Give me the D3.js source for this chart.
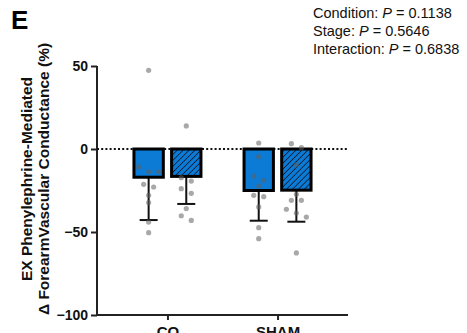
<!DOCTYPE html>
<html>
<head>
<meta charset="utf-8">
<script src="https://cdn.jsdelivr.net/npm/d3@7"></script>
<style>
  body { margin: 0; background: #fff; }
  svg { display: block; font-family: "Liberation Sans", Arial, sans-serif; }
  .axis path, .axis line { stroke: #222; stroke-width: 2; }
  .axis text { font-size: 14px; font-weight: bold; fill: #111; }
</style>
</head>
<body>
<div id="chart"></div>
<script>
// groups on the x axis and the two stages in each group
var categories = ["CO", "SHAM"];
var stages = ["Stage 1", "Stage 2"];

// bar heights (mean) and SD per category, one array per stage
var meanStage1 = [-17, -25];
var meanStage2 = [-16.5, -24.8];
var sdStage1 = [25.8, 18.2];
var sdStage2 = [16.6, 19];

// individual subjects
var pointsCOStage1 = [47.4, -10.8, -13.7, -13.7, -21.3, -22.9, -27.9, -32.3, -44, -50.4];
var pointsCOStage2 = [13.9, -17.3, -19.3, -23.9, -26.7, -35.9, -40.2, -43];
var pointsSHAMStage1 = [3.6, -4.6, -16.4, -18.9, -22.3, -27.9, -28.7, -34.9, -47.4, -54];
var pointsSHAMStage2 = [3.2, 0.8, -9.6, -27.3, -30.9, -30.9, -36.3, -38.6, -41, -62.6];

var yTicks = [50, 0, -50, -100];
var statLines = [
    ["Condition: ", "P", " = 0.1138"],
    ["Stage: ", "P", " = 0.5646"],
    ["Interaction: ", "P", " = 0.6838"]
];

var W = 467, H = 333;
var svg = d3.select("#chart").append("svg")
    .attr("width", W)
    .attr("height", H);

var defs = svg.append("defs");
var pat = defs.append("pattern")
    .attr("id", "hatch")
    .attr("patternUnits", "userSpaceOnUse")
    .attr("width", 4.2)
    .attr("height", 4.2)
    .attr("patternTransform", "rotate(45)");
pat.append("rect").attr("width", 4.2).attr("height", 4.2).attr("fill", "#0b7bd6");
pat.append("line")
    .attr("x1", 0).attr("y1", 0).attr("x2", 0).attr("y2", 4.2)
    .attr("stroke", "#0b1f3a").attr("stroke-width", 1.7);

var y = d3.scaleLinear()
    .domain([-100, 50])
    .range([315, 66]);

var x0 = d3.scalePoint()
    .domain(categories)
    .range([97, 348])
    .padding(0.64);

var x1 = d3.scaleBand()
    .domain(stages)
    .range([-35, 35])
    .paddingInner(0.14);

// axes
svg.append("g")
    .attr("class", "axis")
    .attr("transform", "translate(97,0)")
    .call(d3.axisLeft(y).tickValues(yTicks).tickSize(6).tickPadding(3).tickSizeOuter(0))
    .select(".domain").attr("d", "M0," + y(50) + "V" + y(-100));

var xg = svg.append("g")
    .attr("class", "axis")
    .attr("transform", "translate(0,315)")
    .call(d3.axisBottom(x0).tickSize(5).tickPadding(6).tickSizeOuter(0));
xg.select(".domain").attr("d", "M96,0H348");
xg.selectAll("text").style("font-size", "15px");

// zero reference line
svg.append("line")
    .attr("x1", 97).attr("x2", 348)
    .attr("y1", y(0)).attr("y2", y(0))
    .attr("stroke", "#111")
    .attr("stroke-width", 2)
    .attr("stroke-dasharray", "2,2.2");

var bars = [];
categories.forEach(function(c, i) {
    bars.push({ cat: c, stage: stages[0], mean: meanStage1[i], sd: sdStage1[i],
        pts: i == 0 ? pointsCOStage1 : pointsSHAMStage1 });
    bars.push({ cat: c, stage: stages[1], mean: meanStage2[i], sd: sdStage2[i],
        pts: i == 0 ? pointsCOStage2 : pointsSHAMStage2 });
});

function cx(d) {
    return x0(d.cat) + x1(d.stage) + x1.bandwidth() / 2;
}

// error bars (lower side only)
bars.forEach(function(d) {
    var g = svg.append("g").attr("stroke", "#111").attr("stroke-width", 2);
    g.append("line")
        .attr("x1", cx(d)).attr("x2", cx(d))
        .attr("y1", y(d.mean)).attr("y2", y(d.mean - d.sd));
    g.append("line")
        .attr("x1", cx(d) - 9).attr("x2", cx(d) + 9)
        .attr("y1", y(d.mean - d.sd)).attr("y2", y(d.mean - d.sd));
});

// bars
svg.selectAll("rect.bar")
    .data(bars)
    .enter().append("rect")
    .attr("class", "bar")
    .attr("x", function(d) { return x0(d.cat) + x1(d.stage) + 1.5; })
    .attr("width", x1.bandwidth() - 3)
    .attr("y", y(0))
    .attr("height", function(d) { return y(d.mean) - y(0); })
    .attr("fill", function(d) { return d.stage == stages[0] ? "#0b7bd6" : "url(#hatch)"; })
    .attr("stroke", "#000")
    .attr("stroke-width", 3);

// scatter points, spread sideways when they crowd each other
function spread(vals) {
    var s = vals.map(function(v) { return { v: v, py: y(v) }; })
        .sort(function(a, b) { return a.py - b.py; });
    var groups = [], cur = [];
    s.forEach(function(p) {
        if (cur.length && p.py - cur[cur.length - 1].py > 5.5) {
            groups.push(cur);
            cur = [];
        }
        cur.push(p);
    });
    if (cur.length) groups.push(cur);
    groups.forEach(function(g) {
        g.forEach(function(p, i) { p.dx = (i - (g.length - 1) / 2) * 10; });
    });
    return s;
}

bars.forEach(function(d) {
    svg.append("g").selectAll("circle")
        .data(spread(d.pts))
        .enter().append("circle")
        .attr("cx", function(p) { return cx(d) + p.dx; })
        .attr("cy", function(p) { return p.py; })
        .attr("r", 2.6)
        .attr("fill", "#606060")
        .attr("fill-opacity", 0.55);
});

// y axis title
var yt = svg.append("text")
    .attr("transform", "translate(0,179) rotate(-90)")
    .attr("text-anchor", "middle")
    .style("font-weight", "bold")
    .style("font-size", "15.5px")
    .attr("fill", "#111");
yt.append("tspan").attr("x", 0).attr("y", 32).text("EX Phenylephrine-Mediated");
yt.append("tspan").attr("x", 0).attr("y", 49).text("\u0394 ForearmVascular Conductance (%)");

// panel letter
svg.append("text")
    .attr("x", 11).attr("y", 29)
    .style("font-weight", "bold")
    .style("font-size", "26px")
    .attr("fill", "#000")
    .text("E");

// stats, one text per line
statLines.forEach(function(l, i) {
    var t = svg.append("text")
        .attr("x", 313).attr("y", 18.3 + i * 17.6)
        .style("font-size", "14.5px")
        .attr("fill", "#111");
    t.append("tspan").text(l[0]);
    t.append("tspan").style("font-style", "italic").text(l[1]);
    t.append("tspan").text(l[2]);
});
</script>
</body>
</html>
